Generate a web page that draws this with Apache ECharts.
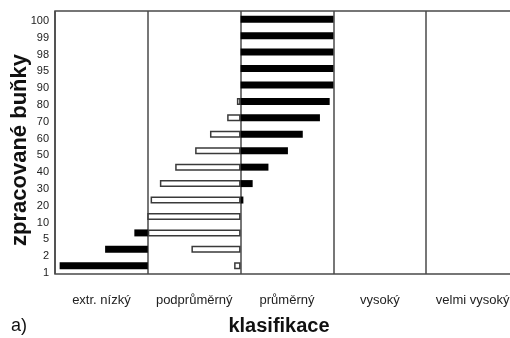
<!DOCTYPE html>
<html>
<head>
<meta charset="utf-8">
<script src="https://cdn.jsdelivr.net/npm/echarts@6/dist/echarts.min.js"></script>
<style>html,body{margin:0;padding:0;background:#fff}#c{width:510px;height:338px}</style>
</head>
<body>
<div id="c"></div>
<script>
// rows from bottom to top
const categories = ['1','2','5','10','20','30','40','50','60','70','80','90','95','98','99','100'];
const classes = ['extr. nízký','podprůměrný','průměrný','vysoký','velmi vysoký'];
// black bars: start / end on the classification scale (0..5)
const blackStart = [0.05, 0.54, 0.855, null, 2, 2, 2, 2, 2, 2, 2, 2, 2, 2, 2, 2];
const blackEnd   = [1, 1, 1, null, 2.03, 2.13, 2.30, 2.51, 2.67, 2.855, 2.96, 3, 3, 3, 3, 3];
// white (outlined) bars
const whiteStart = [1.93, 1.47, 1.0, 0.995, 1.03, 1.13, 1.295, 1.51, 1.67, 1.855, 1.96, null, null, null, null, null];
const whiteEnd   = [2, 2, 2, 2, 2, 2, 2, 2, 2, 2, 2, null, null, null, null, null];

const bBase = blackStart.map(v => v == null ? null : v);
const bLen = blackStart.map((v, i) => v == null ? null : +(blackEnd[i] - v).toFixed(4));
const wBase = whiteStart.map(v => v == null ? null : v);
const wLen = whiteStart.map((v, i) => v == null ? null : +(whiteEnd[i] - v).toFixed(4));

const chart = echarts.init(document.getElementById('c'), null, {renderer: 'canvas'});
const lineCol = '#4a4a4a';
const narrow = "'Liberation Sans Narrow', 'Liberation Sans', Arial, sans-serif";
chart.setOption({
  animation: false,
  backgroundColor: '#fff',
  grid: [
    {left: 55, top: 11, width: 464, height: 263, outerBoundsMode: 'none', containLabel: false, show: true, borderColor: lineCol, borderWidth: 1.5, backgroundColor: 'transparent'},
    {left: 55, top: 12.6, width: 464, height: 268.8, outerBoundsMode: 'none', containLabel: false, show: false}
  ],
  xAxis: [{
    type: 'value', min: 0, max: 5, interval: 1, position: 'bottom', gridIndex: 0,
    axisLine: {show: false}, axisTick: {show: false}, axisLabel: {show: false},
    splitLine: {show: true, lineStyle: {color: lineCol, width: 1.5}}
  }, {
    type: 'category', data: classes, position: 'bottom', boundaryGap: true, gridIndex: 0,
    axisLine: {show: false}, axisTick: {show: false}, splitLine: {show: false},
    axisLabel: {interval: 0, hideOverlap: false, margin: 20, fontFamily: narrow, fontSize: 13, color: '#222'}
  }, {
    type: 'value', min: 0, max: 5, gridIndex: 1, show: false
  }],
  yAxis: [{
    type: 'category', data: categories, gridIndex: 0,
    axisLine: {show: false}, axisTick: {show: false}, splitLine: {show: false},
    axisLabel: {show: false}
  }, {
    type: 'category', data: categories, gridIndex: 1,
    axisLine: {show: false}, axisTick: {show: false}, splitLine: {show: false},
    axisLabel: {interval: 0, margin: 6, fontFamily: narrow, fontSize: 11, color: '#222'}
  }],
  series: [
    {type: 'bar', stack: 'w', data: wBase, barWidth: 7, silent: true, itemStyle: {color: 'transparent'}},
    {type: 'bar', stack: 'w', data: wLen, barWidth: 7, silent: true, itemStyle: {color: '#fff', borderColor: '#3a3a3a', borderWidth: 1.5}},
    {type: 'bar', stack: 'b', data: bBase, barWidth: 7, barGap: '-100%', silent: true, itemStyle: {color: 'transparent'}},
    {type: 'bar', stack: 'b', data: bLen, barWidth: 7, barGap: '-100%', silent: true, itemStyle: {color: '#000'}}
  ],
  graphic: [
    {type: 'text', x: 20, y: 150, rotation: Math.PI / 2, style: {text: 'zpracované buňky', font: "bold 22px 'Liberation Sans', Arial, sans-serif", fill: '#111', align: 'center', verticalAlign: 'middle'}},
    {type: 'text', x: 279, y: 326, style: {text: 'klasifikace', font: "bold 20px 'Liberation Sans', Arial, sans-serif", fill: '#111', align: 'center', verticalAlign: 'middle'}},
    {type: 'text', x: 11, y: 326, style: {text: 'a)', font: "18px 'Liberation Sans', Arial, sans-serif", fill: '#111', align: 'left', verticalAlign: 'middle'}}
  ]
});
</script>
</body>
</html>
